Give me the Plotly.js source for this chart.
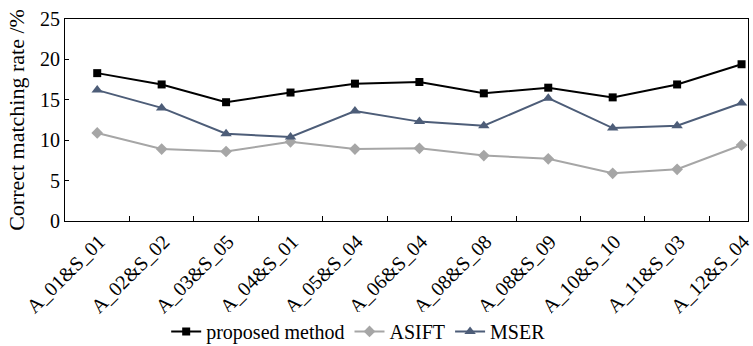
<!DOCTYPE html>
<html>
<head>
<meta charset="utf-8">
<script src="https://cdn.plot.ly/plotly-3.0.1.min.js"></script>
<style>html,body{margin:0;padding:0;background:#fff;}#chart{width:753px;height:346px;}</style>
</head>
<body>
<div id="chart"></div>
<script>
var categories = ["A_01&S_01","A_02&S_02","A_03&S_05","A_04&S_01","A_05&S_04","A_06&S_04","A_08&S_08","A_08&S_09","A_10&S_10","A_11&S_03","A_12&S_04"];
var proposed = [18.3, 16.9, 14.7, 15.9, 17.0, 17.2, 15.8, 16.5, 15.3, 16.9, 19.4];
var asift = [10.9, 8.9, 8.6, 9.8, 8.9, 9.0, 8.1, 7.7, 5.9, 6.4, 9.4];
var mser = [16.2, 14.0, 10.8, 10.4, 13.6, 12.3, 11.8, 15.2, 11.5, 11.8, 14.6];
var yTicks = [0, 5, 10, 15, 20, 25];

var F = "Liberation Serif";
var traces = [
  {x: categories, y: proposed, name: "proposed method", mode: "lines+markers",
   line: {color: "#000000", width: 2}, marker: {symbol: "square", size: 8, color: "#000000"}},
  {x: categories, y: asift, name: "ASIFT", mode: "lines+markers",
   line: {color: "#a6a6a6", width: 2}, marker: {symbol: "diamond", size: 9, color: "#a6a6a6"}},
  {x: categories, y: mser, name: "MSER", mode: "lines+markers",
   line: {color: "#4d5d78", width: 2}, marker: {symbol: "triangle-up", size: 10, color: "#4d5d78"}}
];
var layout = {
  width: 753, height: 346,
  margin: {l: 65, r: 5, t: 19, b: 125},
  paper_bgcolor: "#fff", plot_bgcolor: "#fff",
  font: {family: F, size: 19, color: "#000"},
  showlegend: true,
  legend: {orientation: "h", x: 0.43, xanchor: "center", yref: "container", y: 0.042, yanchor: "middle",
           font: {family: F, size: 20}, itemwidth: 30, tracegroupgap: 0},
  xaxis: {type: "category", range: [-0.5, 10.1], tickson: "boundaries", ticks: "inside", ticklen: 5,
          tickcolor: "#000", tickangle: -45, showline: true, mirror: true, linecolor: "#000", linewidth: 1,
          showgrid: false, zeroline: false, automargin: false, tickfont: {family: F, size: 20},
          ticklabelshift: 2},
  yaxis: {range: [0, 25], tickvals: yTicks, ticks: "inside", ticklen: 4, tickcolor: "#000",
          showline: true, mirror: true, linecolor: "#000", linewidth: 1, showgrid: false, zeroline: false,
          automargin: false, tickfont: {family: F, size: 20},
          title: {text: "Correct matching rate /%", font: {family: F, size: 22}, standoff: 9}}
};
Plotly.newPlot("chart", traces, layout, {displayModeBar: false, staticPlot: true});
</script>
</body>
</html>
